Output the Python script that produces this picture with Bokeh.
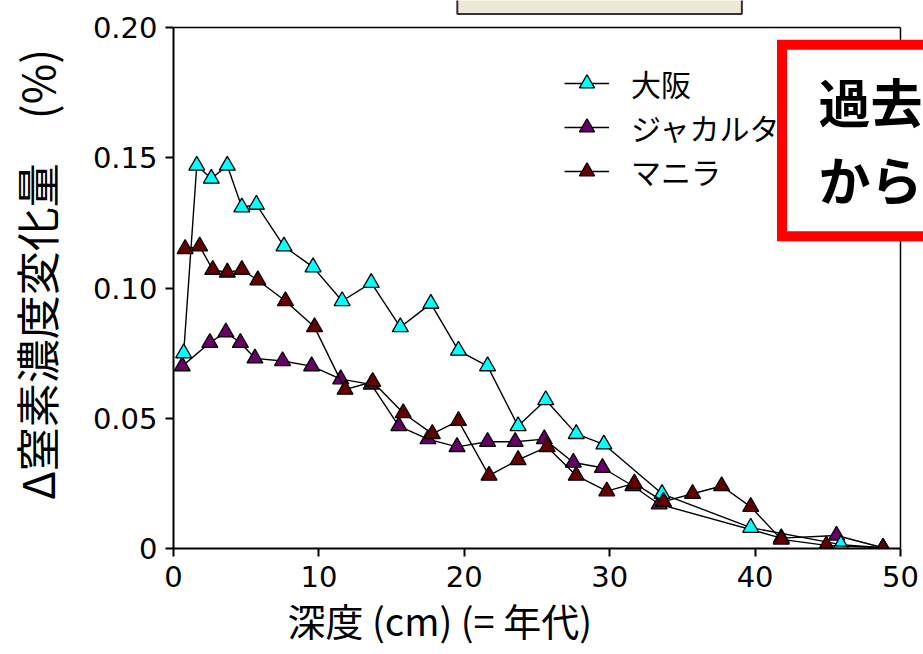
from bokeh.plotting import figure
from bokeh.embed import file_html
from bokeh.resources import INLINE
from bokeh.models import (Range1d, FixedTicker, Legend, LegendItem, BoxAnnotation, Label,
                          Title)

# ---- data ----
x_osaka = [0.7, 1.6, 2.6, 3.7, 4.7, 5.7, 7.6, 9.6, 11.6, 13.6, 15.6, 17.7, 19.6, 21.6,
           23.7, 25.6, 27.7, 29.6, 33.6, 39.7, 45.9, 48.8]
y_osaka = [0.075, 0.147, 0.142, 0.147, 0.131, 0.132, 0.116, 0.108, 0.095, 0.102, 0.085,
           0.094, 0.076, 0.070, 0.047, 0.057, 0.044, 0.040, 0.021, 0.008, 0.0015, 0.0003]

x_jakarta = [0.6, 2.5, 3.6, 4.6, 5.6, 7.5, 9.5, 11.5, 13.6, 15.5, 17.5, 19.5, 21.6, 23.5,
             25.5, 27.5, 29.5, 31.6, 33.4, 41.8, 45.6, 48.8]
y_jakarta = [0.070, 0.079, 0.083, 0.079, 0.073, 0.072, 0.070, 0.065, 0.063, 0.047, 0.042,
             0.039, 0.041, 0.041, 0.042, 0.033, 0.031, 0.024, 0.017, 0.004, 0.005, 0.0003]

x_manila = [0.8, 1.8, 2.7, 3.7, 4.7, 5.8, 7.7, 9.7, 11.8, 13.7, 15.8, 17.8, 19.6, 21.7,
            23.7, 25.7, 27.7, 29.8, 31.7, 33.7, 35.7, 37.7, 39.7, 41.8, 44.9, 48.8]
y_manila = [0.115, 0.116, 0.107, 0.106, 0.107, 0.103, 0.095, 0.085, 0.061, 0.064, 0.052,
            0.044, 0.049, 0.028, 0.034, 0.039, 0.028, 0.022, 0.025, 0.018, 0.021, 0.024,
            0.016, 0.0035, 0.0012, 0.0003]

series_names = ["大阪", "ジャカルタ", "マニラ"]
series_colors = {"大阪": "#00FFFF", "ジャカルタ": "#660066", "マニラ": "#660000"}

x_ticks = [0, 10, 20, 30, 40, 50]
y_ticks = [0, 0.05, 0.10, 0.15, 0.20]
y_tick_labels = ["0", "0.05", "0.10", "0.15", "0.20"]

y_title = "Δ窒素濃度変化量　(%)"
x_title = "深度 (cm) (= 年代)"
box_line1 = "過去"
box_line2 = "から"

JP = "Noto Sans CJK JP"

X_MAX = x_ticks[-1]
Y_MAX = y_ticks[-1]
# the frame is extended to the right and top edges of the page so that the
# slide decorations there can be drawn; the chart box itself is 0..50 x 0..0.20
X_END = X_MAX * (923 - 173.3) / (900 - 173.3)
Y_END = Y_MAX * 548.0 / (548 - 27)

p = figure(width=923, height=654, output_backend="svg", toolbar_location=None,
           x_range=Range1d(0, X_END), y_range=Range1d(0, Y_END),
           min_border_left=173, min_border_right=0, min_border_top=0,
           min_border_bottom=106)
p.background_fill_color = "white"
p.border_fill_color = "white"
p.xgrid.visible = False
p.ygrid.visible = False
p.outline_line_color = None

for ax in (p.xaxis[0], p.yaxis[0]):
    ax.axis_line_width = 2
    ax.axis_line_color = "black"
    ax.major_tick_line_width = 2
    ax.major_tick_line_color = "black"
    ax.major_tick_out = 8
    ax.major_tick_in = 0
    ax.minor_tick_out = 0
    ax.minor_tick_in = 0
    ax.major_label_text_font = "DejaVu Sans"
    ax.major_label_text_font_size = "29px"
    ax.major_label_text_color = "black"

p.xaxis.major_label_standoff = 9
p.yaxis.major_label_standoff = 8
p.xaxis.bounds = (0, X_MAX)
p.yaxis.bounds = (0, Y_MAX)
p.xaxis.ticker = FixedTicker(ticks=x_ticks)
p.yaxis.ticker = FixedTicker(ticks=y_ticks)
p.yaxis.major_label_overrides = {t: l for t, l in zip(y_ticks, y_tick_labels)}
p.xaxis.major_label_overrides = {t: str(t) for t in x_ticks}

p.yaxis.axis_label = y_title
p.yaxis.axis_label_text_font = JP
p.yaxis.axis_label_text_font_size = "44px"
p.yaxis.axis_label_text_font_style = "normal"
p.yaxis.axis_label_text_color = "black"
p.yaxis.axis_label_standoff = 22

# x title, placed left-aligned with an offset like in the reference
p.add_layout(Title(text=x_title, align="left", offset=114, standoff=0,
                   text_font=JP, text_font_size="38px", text_font_style="normal",
                   text_color="black"), "below")

# chart box top and right edges
p.segment(x0=[0, X_MAX], y0=[Y_MAX, 0], x1=[X_MAX, X_MAX], y1=[Y_MAX, Y_MAX],
          line_color="black", line_width=1.5)

data = {"大阪": (x_osaka, y_osaka), "ジャカルタ": (x_jakarta, y_jakarta), "マニラ": (x_manila, y_manila)}
rends = {}
for name in ["ジャカルタ", "大阪", "マニラ"]:
    xs, ys = data[name]
    rl = p.line(xs, ys, line_color="black", line_width=1.4)
    rm = p.scatter(xs, ys, marker="triangle", size=16, fill_color=series_colors[name],
                   line_color="black", line_width=1.3)
    rends[name] = [rl, rm]

legend = Legend(items=[LegendItem(label=n, renderers=rends[n]) for n in series_names],
                location=(391, 355), orientation="vertical",
                label_text_font=JP, label_text_font_size="30px", label_text_color="black",
                glyph_width=45, glyph_height=38, label_height=38, label_standoff=22,
                spacing=0, padding=0, margin=0,
                border_line_color=None, background_fill_alpha=0)
p.add_layout(legend)

# slide decorations seen in the reference
beige = BoxAnnotation(left=19.52, right=39.09, top=0.25, bottom=0.2052,
                      fill_color="#ECE9D5", fill_alpha=1, line_color="#333333",
                      line_alpha=1, line_width=2)
p.add_layout(beige)
red = BoxAnnotation(left=41.85, right=60, top=0.1934, bottom=0.1199,
                    fill_color="white", fill_alpha=1, line_color="#FF0000",
                    line_alpha=1, line_width=10, line_join="miter")
p.add_layout(red)
p.add_layout(Label(x=44.36, y=0.1862, text=box_line1, text_font=JP, text_font_size="52px",
                   text_font_style="bold", text_color="black", text_baseline="top"))
p.add_layout(Label(x=44.36, y=0.1566, text=box_line2, text_font=JP, text_font_size="52px",
                   text_font_style="bold", text_color="black", text_baseline="top"))

open("out.html", "w").write(file_html(p, INLINE))
